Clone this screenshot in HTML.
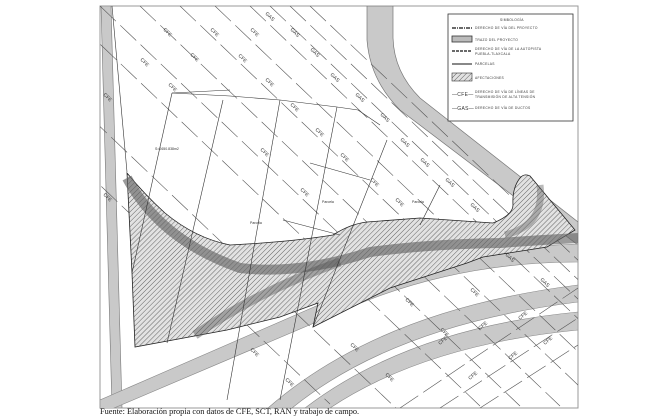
<!DOCTYPE html>
<html><head><meta charset="utf-8"><style>
html,body{margin:0;padding:0;background:#fff;width:662px;height:420px;overflow:hidden}
svg{position:absolute;left:0;top:0}
.cap{position:absolute;left:100px;top:407px;font-family:"Liberation Serif",serif;font-size:8.3px;color:#111}
</style></head><body>
<svg width="662" height="420" viewBox="0 0 662 420" font-family="Liberation Sans, sans-serif">
<defs>
<pattern id="h" width="3.5" height="3.5" patternUnits="userSpaceOnUse" patternTransform="rotate(45)">
<rect width="4" height="4" fill="#e2e2e2"/><line x1="0" y1="0" x2="0" y2="4" stroke="#555" stroke-width="0.9"/>
</pattern>
<clipPath id="c"><rect x="100" y="6" width="478" height="402"/></clipPath>
</defs>
<rect x="100" y="6" width="478" height="402" fill="#fff" stroke="#999" stroke-width="1"/>
<g clip-path="url(#c)">
<polygon points="101,6 111,6 122,408 112,408" fill="#c9c9c9" stroke="#777" stroke-width="0.6"/>
<path d="M367,6 L367,40 Q370,80 400,110 L578,245 L578,222 L420,98 Q394,72 393,38 L393,6 Z" fill="#c9c9c9" stroke="#777" stroke-width="0.7"/>
<path d="M100,400 L330,300 Q450,248 578,244 L578,262 Q450,262 340,312 L100,414 Z" fill="#c9c9c9" stroke="#888" stroke-width="0.6"/>
<path d="M268,408 Q380,310 578,285 L578,302 Q395,325 292,408 Z" fill="#c9c9c9" stroke="#888" stroke-width="0.6"/>
<path d="M305,408 Q410,328 578,312 L578,330 Q425,345 330,408 Z" fill="#c9c9c9" stroke="#888" stroke-width="0.6"/>
<g stroke="#555" stroke-width="0.6" fill="none" stroke-dasharray="22,6">
<line x1="60" y1="6" x2="480" y2="406"/>
<line x1="100" y1="6" x2="520" y2="406"/>
<line x1="140" y1="6" x2="560" y2="406"/>
<line x1="180" y1="6" x2="600" y2="406"/>
<line x1="215" y1="6" x2="635" y2="406"/>
<line x1="30" y1="60" x2="400" y2="412"/>
<line x1="0" y1="90" x2="330" y2="404"/>
<line x1="250" y1="6" x2="590" y2="330"/>
<line x1="270" y1="6" x2="600" y2="320"/>
<line x1="290" y1="6" x2="610" y2="310"/>
<line x1="310" y1="6" x2="620" y2="300"/>
<line x1="400" y1="408" x2="578" y2="288"/>
<line x1="440" y1="408" x2="578" y2="318"/>
<line x1="480" y1="408" x2="578" y2="345"/>
</g>
<g font-size="5" fill="#333">
<text transform="translate(163,30) rotate(44)">CFE</text>
<text transform="translate(190,55) rotate(44)">CFE</text>
<text transform="translate(140,60) rotate(44)">CFE</text>
<text transform="translate(168,85) rotate(44)">CFE</text>
<text transform="translate(210,30) rotate(44)">CFE</text>
<text transform="translate(238,56) rotate(44)">CFE</text>
<text transform="translate(265,80) rotate(44)">CFE</text>
<text transform="translate(290,105) rotate(44)">CFE</text>
<text transform="translate(250,30) rotate(44)">CFE</text>
<text transform="translate(315,130) rotate(44)">CFE</text>
<text transform="translate(340,155) rotate(44)">CFE</text>
<text transform="translate(370,180) rotate(44)">CFE</text>
<text transform="translate(395,200) rotate(44)">CFE</text>
<text transform="translate(260,150) rotate(44)">CFE</text>
<text transform="translate(300,190) rotate(44)">CFE</text>
<text transform="translate(440,260) rotate(44)">CFE</text>
<text transform="translate(470,290) rotate(44)">CFE</text>
<text transform="translate(405,300) rotate(44)">CFE</text>
<text transform="translate(440,330) rotate(44)">CFE</text>
<text transform="translate(350,345) rotate(44)">CFE</text>
<text transform="translate(385,375) rotate(44)">CFE</text>
<text transform="translate(250,350) rotate(44)">CFE</text>
<text transform="translate(285,380) rotate(44)">CFE</text>
<text transform="translate(103,95) rotate(44)">CFE</text>
<text transform="translate(103,195) rotate(44)">CFE</text>
<text transform="translate(265,14) rotate(44)">GAS</text>
<text transform="translate(290,30) rotate(44)">GAS</text>
<text transform="translate(310,50) rotate(44)">GAS</text>
<text transform="translate(330,75) rotate(44)">GAS</text>
<text transform="translate(355,95) rotate(44)">GAS</text>
<text transform="translate(380,115) rotate(44)">GAS</text>
<text transform="translate(400,140) rotate(44)">GAS</text>
<text transform="translate(420,160) rotate(44)">GAS</text>
<text transform="translate(445,180) rotate(44)">GAS</text>
<text transform="translate(470,205) rotate(44)">GAS</text>
<text transform="translate(505,255) rotate(44)">GAS</text>
<text transform="translate(540,280) rotate(44)">GAS</text>
<text transform="translate(440,345) rotate(-40)">CFE</text>
<text transform="translate(480,330) rotate(-40)">CFE</text>
<text transform="translate(520,320) rotate(-40)">CFE</text>
<text transform="translate(470,380) rotate(-40)">CFE</text>
<text transform="translate(510,360) rotate(-40)">CFE</text>
<text transform="translate(545,345) rotate(-40)">CFE</text>
</g>
<path d="M127,173 Q145,195 165,213 Q195,238 230,245 Q290,242 333,235 Q350,224 367,222 L420,218 L493,223 Q513,215 513,205 Q512,188 520,178 Q524,173 530,176 L575,230 L547,247 L483,257 L467,263 L390,288 L313,327 L318,303 L280,317 L227,330 L135,347 L132,273 Z" fill="url(#h)" stroke="#222" stroke-width="0.8"/>
<path d="M127,178 Q160,240 240,268 Q300,275 370,252 Q430,244 500,243 Q540,240 578,238" fill="none" stroke="#666" stroke-width="10" opacity="0.65"/>
<path d="M195,335 Q260,290 340,262" fill="none" stroke="#555" stroke-width="9" opacity="0.45"/>
<path d="M505,235 Q545,225 540,185" fill="none" stroke="#666" stroke-width="7" opacity="0.45"/>
<g stroke="#333" stroke-width="0.6" fill="none">
<polyline points="172,93 230,96 280,100 337,107 358,110 380,125"/>
<line x1="172" y1="93" x2="132" y2="273"/>
<line x1="223" y1="100" x2="167" y2="343"/>
<line x1="280" y1="100" x2="227" y2="400"/>
<line x1="337" y1="107" x2="280" y2="400"/>
<line x1="387" y1="140" x2="313" y2="327"/>
<line x1="440" y1="185" x2="420" y2="225"/>
<line x1="310" y1="163" x2="370" y2="180"/>
<line x1="283" y1="220" x2="340" y2="235"/>
<line x1="112" y1="6" x2="127" y2="172"/>
<line x1="172" y1="93" x2="230" y2="90"/>
</g>
<g font-size="3.5" fill="#333">
<text x="155" y="150">S=2650.838m2</text>
<text x="250" y="224">Parcela</text>
<text x="322" y="203">Parcela</text>
<text x="412" y="203">Parcela</text>
</g>
</g>
<rect x="448" y="14" width="125" height="107" fill="#fff" stroke="#333" stroke-width="0.8"/>
<g font-size="3.3" fill="#333" letter-spacing="0.3">
<text x="500" y="21">SIMBOLOGÍA</text>
<line x1="452" y1="28" x2="472" y2="28" stroke="#111" stroke-width="1.2" stroke-dasharray="4,1,1,1"/>
<text x="475" y="29">DERECHO DE VÍA DEL PROYECTO</text>
<rect x="452" y="36" width="20" height="6" fill="#bbb" stroke="#333" stroke-width="0.8"/>
<text x="475" y="41">TRAZO DEL PROYECTO</text>
<line x1="452" y1="51" x2="472" y2="51" stroke="#111" stroke-width="1.2" stroke-dasharray="3,1"/>
<text x="475" y="50">DERECHO DE VÍA DE LA AUTOPISTA</text>
<text x="475" y="55">PUEBLA-TLAXCALA</text>
<line x1="452" y1="64" x2="472" y2="64" stroke="#111" stroke-width="1"/>
<text x="475" y="65">PARCELAS</text>
<rect x="452" y="73" width="20" height="8" fill="url(#h)" stroke="#333" stroke-width="0.6"/>
<text x="475" y="79">AFECTACIONES</text>
<text x="452" y="96" font-size="5">—CFE—</text>
<text x="475" y="93">DERECHO DE VÍA DE LÍNEAS DE</text>
<text x="475" y="98">TRANSMISIÓN DE ALTA TENSIÓN</text>
<text x="452" y="110" font-size="5">—GAS—</text>
<text x="475" y="109">DERECHO DE VÍA DE DUCTOS</text>
</g>
</svg>
<div class="cap">Fuente: Elaboración propia con datos de CFE, SCT, RAN y trabajo de campo.</div>
</body></html>
